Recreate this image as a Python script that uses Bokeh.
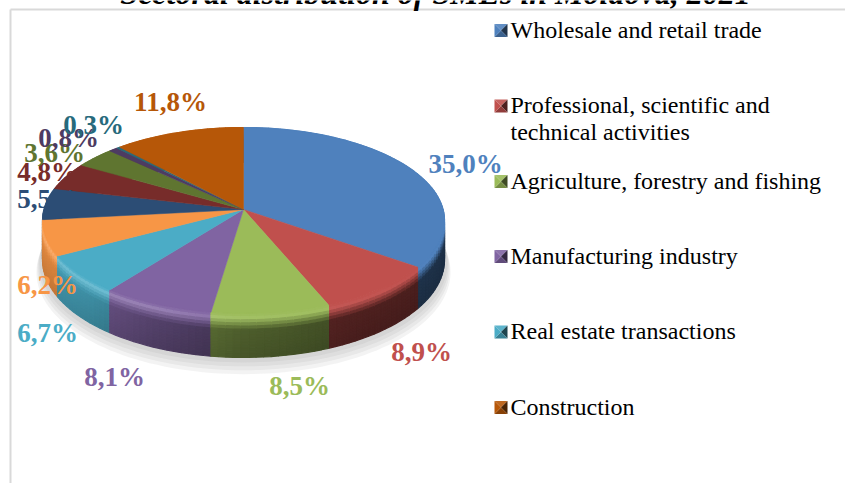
import numpy as np
from bokeh.plotting import figure
from bokeh.core.properties import value
from bokeh.embed import file_html
from bokeh.resources import INLINE

TITLE = "Sectoral distribution of SMEs in Moldova, 2021"
shares = [35.0, 8.9, 8.5, 8.1, 6.7, 6.2, 5.5, 4.8, 3.6, 0.8, 0.3, 11.8]
colors = ["#4f81bd", "#c0504d", "#9bbb59", "#8064a2", "#4bacc6", "#f79646",
          "#2c4d75", "#772c2a", "#5f7530", "#4d3b62", "#276a7c", "#b65708"]
legend_lines = [["Wholesale and retail trade"],
                ["Professional, scientific and", "technical activities"],
                ["Agriculture, forestry and fishing"],
                ["Manufacturing industry"],
                ["Real estate transactions"],
                ["Construction"]]
legend_slices = [0, 1, 2, 3, 4, 11]

# layout (pixels)
W, H = 845, 483
CX, CY, A, B, K, T = 243.0, 209.0, 199.6, 91.7, 0.118, 38.8
label_xy = [(465, 163), (421, 351), (299, 385), (114, 376), (47, 332), (47, 284),
            (47, 198), (47, 171), (54, 152), (68, 137), (93, 124), (170, 101)]
legend_y = [30, 105.5, 181, 256, 331.5, 407]

p = figure(width=W, height=H, x_range=(0, W), y_range=(H, 0), toolbar_location=None,
           output_backend="svg", min_border=0, outline_line_color=None,
           background_fill_color="white", border_fill_color="white")
p.axis.visible = False
p.grid.visible = False
p.styles = {"position": "absolute", "left": "0px", "top": "0px"}


def rim(theta, drop=0.0, grow=1.0):
    X, Y = np.sin(theta) * grow, np.cos(theta) * grow
    s = 1.0 / (1.0 + K * np.cos(theta))
    return CX + A * X * s, CY - B * Y * s + drop * s


def mix(c, target, f):
    c = np.array([int(c[i:i + 2], 16) for i in (1, 3, 5)], float)
    return c + (np.array(target, float) - c) * f


def to_hex(c):
    return "#%02x%02x%02x" % tuple(int(max(0, min(255, round(v)))) for v in c)


# frame
p.segment([10, 10], [9, 9], [10, 845], [483, 9], line_color="#d9d9d9", line_width=2)

# title
p.text([435], [3], text=[TITLE], y_offset=-11, text_font=value("Liberation Serif"),
       text_font_style="bold italic", text_font_size="32px", text_align="center",
       text_baseline="alphabetic", text_color="#000000")

# shadow
th = np.linspace(0, 2 * np.pi, 181)
for extra, g in [(12, 1.03), (9, 1.025), (6, 1.02), (3, 1.015)]:
    sx, sy = rim(th, T + extra, g)
    p.patch(sx, sy, fill_color="#7f7f7f", fill_alpha=0.09, line_color=None)

vals = np.array(shares) / sum(shares)
edges = np.concatenate([[0], np.cumsum(vals)]) * 2 * np.pi

# side wall
band_t = np.linspace(0, 1, 15)
step = np.radians(2.0)
xs, ys, fc = [], [], []
pieces = []
for i, col in enumerate(colors):
    n = max(1, int(np.ceil((edges[i + 1] - edges[i]) / step)))
    a = np.linspace(edges[i], edges[i + 1], n + 1)
    for a0, a1 in zip(a[:-1], a[1:]):
        pieces.append((np.cos((a0 + a1) / 2), a0, a1, col))
pieces.sort(key=lambda r: -r[0])
for _, a0, a1, col in pieces:
    u = np.sin((a0 + a1) / 2)
    base = np.interp(u, [-1, -.7, -.4, 0, .5, 1], [.9, .82, .66, .5, .41, .38])
    hi = np.interp(u, [-1, -.4, 0, 1], [.22, .2, .08, .0])
    for t0, t1 in zip(band_t[:-1], band_t[1:]):
        t = (t0 + t1) / 2
        x0, y0 = rim(np.array([a0, a1]), T * t0)
        x1, y1 = rim(np.array([a1, a0]), T * t1)
        if t < .12:
            c = mix(col, (255, 255, 255), hi * t / .12)
        elif t < .38:
            f = (t - .12) / .26
            c = mix(col, (255, 255, 255), hi * (1 - f)) * (1 - f) + mix(col, (0, 0, 0), 1 - base) * f
        else:
            c = mix(col, (0, 0, 0), 1 - base * (1 - .15 * (t - .38)))
        xs.append(list(x0) + list(x1))
        ys.append(list(y0) + list(y1))
        fc.append(to_hex(c))
p.patches(xs, ys, fill_color=fc, line_color=fc, line_width=1.2)

# top face
for i, col in enumerate(colors):
    n = max(3, int((edges[i + 1] - edges[i]) / np.radians(1.0)))
    a = np.linspace(edges[i], edges[i + 1], n)
    x, y = rim(a)
    p.patch([CX] + list(x), [CY] + list(y), fill_color=col, line_color=col, line_width=0.5)

# value labels
lab = [f"{v:.1f}%".replace(".", ",") for v in shares]
p.text([q[0] for q in label_xy], [q[1] for q in label_xy], text=lab,
       text_color=colors, text_font=value("Liberation Serif"), text_font_style="bold",
       text_font_size="27px", text_align="center", text_baseline="middle")

# legend
for lines, idx, ly in zip(legend_lines, legend_slices, legend_y):
    col = colors[idx]
    mx, my, h = 500.5, ly, 6.5
    cs = [(-1, -1, 1, -1, mix(col, (255, 255, 255), .1)),
          (1, -1, 1, 1, mix(col, (0, 0, 0), .6)),
          (1, 1, -1, 1, mix(col, (0, 0, 0), .25)),
          (-1, 1, -1, -1, mix(col, (0, 0, 0), .0))]
    for ax, ay, bx, by, c in cs:
        p.patch([mx + ax * h, mx + bx * h, mx], [my + ay * h, my + by * h, my],
                fill_color=to_hex(c), line_color=None)
    for j, line in enumerate(lines):
        p.text([510], [ly - 1 + j * 27], text=[line], text_font=value("Liberation Serif"),
               text_font_size="24px", text_baseline="middle", text_color="#000000")

open("out.html", "w").write(file_html(p, INLINE))
